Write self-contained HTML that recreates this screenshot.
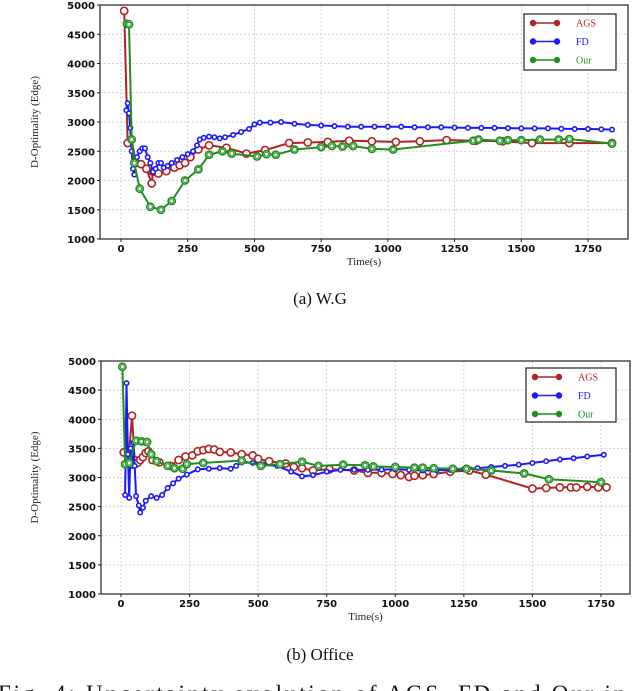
<!DOCTYPE html>
<html><head><meta charset="utf-8">
<style>
html,body{margin:0;padding:0;background:#fff;width:640px;height:691px;overflow:hidden}
svg{display:block}
</style></head>
<body>
<svg id="root" width="640" height="691" viewBox="0 0 640 691" xmlns="http://www.w3.org/2000/svg"></svg>
<script>
// ----- Chart (a) W.G data -----
const xTicks = [0,250,500,750,1000,1250,1500,1750];
const yTicks = [1000,1500,2000,2500,3000,3500,4000,4500,5000];
const seriesNames = ["AGS","FD","Our"];
const aAgsT = [12,25,40,55,75,95,115,120,140,170,200,220,240,260,290,330,395,470,540,630,700,775,855,940,1030,1120,1220,1330,1430,1540,1680,1840];
const aAgsV = [4900,2640,2700,2300,2280,2200,1950,2150,2120,2160,2220,2260,2300,2400,2530,2600,2560,2460,2520,2640,2650,2660,2680,2670,2660,2670,2690,2680,2670,2640,2640,2640];
const aFdT = [20,25,30,35,40,45,50,60,70,80,90,100,110,120,130,140,150,160,175,190,210,230,250,270,285,295,310,330,350,370,390,420,450,480,500,520,560,600,650,700,750,800,850,900,950,1000,1050,1100,1150,1200,1250,1300,1350,1400,1450,1500,1550,1600,1650,1700,1750,1800,1840];
const aFdV = [3200,3320,3150,2900,2500,2200,2100,2400,2500,2550,2550,2400,2300,2150,2200,2300,2300,2220,2250,2300,2350,2400,2450,2500,2600,2700,2730,2750,2740,2720,2740,2780,2830,2880,2960,2990,2990,3000,2970,2950,2940,2930,2920,2920,2920,2920,2920,2910,2910,2910,2905,2900,2900,2900,2895,2890,2890,2890,2885,2880,2880,2875,2870];
const aOurT = [22,30,40,50,70,110,150,190,240,290,330,380,415,510,545,580,650,750,790,830,870,940,1020,1320,1340,1420,1450,1500,1570,1640,1680,1840];
const aOurV = [4680,4670,2700,2300,1860,1550,1500,1650,2000,2190,2440,2500,2460,2410,2450,2440,2530,2570,2590,2580,2590,2540,2530,2680,2700,2680,2690,2690,2700,2700,2710,2630];
// ----- Chart (b) Office data -----
const bAgsT = [10,30,40,50,60,70,80,90,100,115,140,180,210,235,260,280,300,320,340,360,400,440,480,500,540,600,630,660,700,760,850,900,950,990,1020,1050,1070,1100,1140,1200,1270,1330,1500,1550,1600,1640,1660,1700,1740,1770];
const bAgsV = [3430,3450,4060,3300,3250,3300,3350,3420,3450,3300,3260,3200,3300,3360,3380,3450,3470,3490,3480,3440,3430,3400,3380,3320,3280,3240,3180,3160,3120,3140,3120,3080,3080,3060,3040,3010,3030,3040,3060,3100,3120,3050,2810,2820,2830,2830,2830,2840,2830,2830];
const bFdT = [15,20,25,30,35,40,45,50,55,65,70,80,90,110,130,150,170,190,210,240,280,320,360,400,420,440,480,520,570,620,660,700,750,800,850,900,950,1000,1050,1100,1150,1200,1250,1300,1350,1400,1450,1500,1550,1600,1650,1700,1760];
const bFdV = [2700,4620,3400,2650,3500,3200,3600,3200,2680,2520,2400,2480,2600,2680,2650,2700,2820,2900,2980,3050,3140,3150,3160,3150,3200,3260,3250,3220,3200,3100,3020,3040,3100,3130,3130,3130,3135,3140,3130,3120,3125,3130,3140,3160,3180,3200,3220,3250,3280,3310,3330,3360,3390];
const bOurT = [5,15,30,55,75,95,110,130,170,195,225,240,300,440,510,580,660,720,810,890,920,1000,1070,1100,1140,1210,1260,1350,1470,1560,1750];
const bOurV = [4900,3230,3250,3630,3620,3610,3400,3280,3200,3160,3150,3230,3250,3290,3200,3230,3270,3200,3220,3210,3190,3180,3170,3170,3160,3150,3150,3120,3070,2970,2920];

const NS="http://www.w3.org/2000/svg";
const root=document.getElementById('root');
function mk(tag,attrs,parent){const e=document.createElementNS(NS,tag);for(const k in attrs)e.setAttribute(k,attrs[k]);(parent||root).appendChild(e);return e;}

const colors={AGS:"#b22222",FD:"#1a1aff",Our:"#1f8f1f"};

function drawChart(id,box,series,caption,capY){
  const g=mk('g',{});
  
  
  const xS=v=>box.x0+(v-0)/1750*(box.x1750-box.x0);
  const yS=v=>box.bottom-(v-1000)/4000*(box.bottom-box.top);
  xTicks.forEach(t=>{const l=mk('line',{x1:xS(t),x2:xS(t),y1:box.top,y2:box.bottom,stroke:'#c8c8c8','stroke-dasharray':'2,2','stroke-width':0.8},g);
    });
  yTicks.forEach(t=>{const l=mk('line',{x1:box.left,x2:box.right,y1:yS(t),y2:yS(t),stroke:'#c8c8c8','stroke-dasharray':'2,2','stroke-width':0.8},g);
    });
  const fr=mk('rect',{x:box.left,y:box.top,width:box.right-box.left,height:box.bottom-box.top,fill:'none',stroke:'#222','stroke-width':1.2},g);
  
  xTicks.forEach(t=>{
    mk('line',{x1:xS(t),x2:xS(t),y1:box.bottom,y2:box.bottom+3,stroke:'#222'},g);
    const tx=mk('text',{x:xS(t),y:box.bottom+13,'text-anchor':'middle','font-family':'DejaVu Sans, sans-serif','font-size':10,'font-weight':'bold',fill:'#111'},g);
    tx.textContent=t;
  });
  yTicks.forEach(t=>{
    mk('line',{x1:box.left-3,x2:box.left,y1:yS(t),y2:yS(t),stroke:'#222'},g);
    const tx=mk('text',{x:box.left-5,y:yS(t)+4,'text-anchor':'end','font-family':'DejaVu Sans, sans-serif','font-size':10,'font-weight':'bold',fill:'#111'},g);
    tx.textContent=t;
  });
  const xt=mk('text',{x:(box.left+box.right)/2,y:box.bottom+26,'text-anchor':'middle','font-family':'Liberation Serif, serif','font-size':11,fill:'#222'},g);
  xt.textContent='Time(s)';
  const cy=(box.top+box.bottom)/2;
  const yt=mk('text',{x:38,y:cy,'text-anchor':'middle','font-family':'Liberation Serif, serif','font-size':11,fill:'#222',transform:`rotate(-90 38 ${cy})`},g);
  yt.textContent='D-Optimality (Edge)';
  series.forEach(s=>{
    const c=colors[s.name];
    const sg=mk('g',{},g);
    
    
    const pts=s.t.map((t,i)=>xS(t).toFixed(1)+','+yS(s.v[i]).toFixed(1)).join(' ');
    const pl=mk('polyline',{points:pts,fill:'none',stroke:c,'stroke-width':2},sg);
    
    s.t.forEach((t,i)=>{
      const r=s.name==='FD'?2.2:3.6;
      const m=mk('circle',{cx:xS(t),cy:yS(s.v[i]),r:r,fill:'#fff',stroke:c,'stroke-width':1.6},sg);
      
      if(s.name==='Our'){const m2=mk('circle',{cx:xS(t),cy:yS(s.v[i]),r:2,fill:'none',stroke:c,'stroke-width':0.9},sg);
        }
    });
  });
  const L=box.legend;
  const lg=mk('g',{},g);
  
  mk('rect',{x:L.x,y:L.y,width:L.w,height:L.h,fill:'#fff',stroke:'#222','stroke-width':1.2},lg);
  seriesNames.forEach((n,i)=>{
    const yy=L.y+9+i*18.5;
    const c=colors[n];
    const e=mk('g',{},lg);
    
    mk('line',{x1:L.x+9,x2:L.x+33,y1:yy,y2:yy,stroke:c,'stroke-width':1.5},e);
    mk('circle',{cx:L.x+9,cy:yy,r:3.2,fill:c},e);
    mk('circle',{cx:L.x+33,cy:yy,r:3.2,fill:c},e);
    const tx=mk('text',{x:L.x+52,y:yy+3.5,'font-family':'Liberation Serif, serif','font-size':10,fill:c},e);
    tx.textContent=n;
  });
  const cap=mk('text',{x:320,y:capY,'text-anchor':'middle','font-family':'Liberation Serif, serif','font-size':17,fill:'#111'},g);
  cap.textContent=caption;
}

drawChart('chart-wg',{left:100,right:628,top:5,bottom:239,x0:121,x1750:588,legend:{x:524,y:14,w:92,h:56}},
  [{name:'AGS',t:aAgsT,v:aAgsV},{name:'FD',t:aFdT,v:aFdV},{name:'Our',t:aOurT,v:aOurV}],'(a) W.G',304);
drawChart('chart-office',{left:101,right:630,top:361,bottom:594,x0:121,x1750:601,legend:{x:526,y:368,w:90,h:54}},
  [{name:'AGS',t:bAgsT,v:bAgsV},{name:'FD',t:bFdT,v:bFdV},{name:'Our',t:bOurT,v:bOurV}],'(b) Office',660);

const fig=mk('text',{x:-2,y:701,'font-family':'Liberation Serif, serif','font-size':23,fill:'#111',textLength:650,lengthAdjust:'spacing'});
fig.textContent='Fig. 4:  Uncertainty evolution of AGS, FD and Our in 4';


</script>
</body></html>
